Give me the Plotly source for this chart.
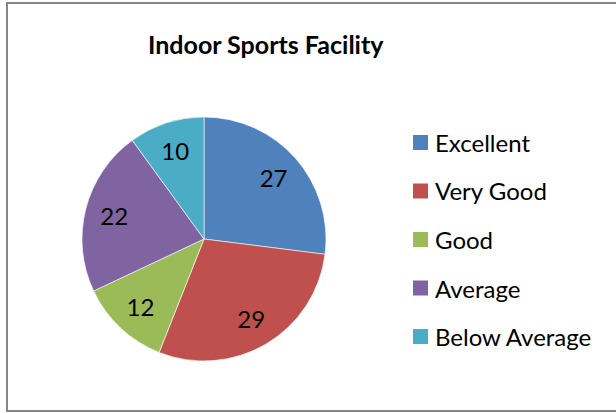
import plotly.graph_objects as go

labels = ["Excellent", "Very Good", "Good", "Average", "Below Average"]
values = [27, 29, 12, 22, 10]
colors = ["#4F81BD", "#C0504D", "#9BBB59", "#8064A2", "#4BACC6"]
title = "Indoor Sports Facility"

W, H = 616, 413
FONT = "Lato"

def px(x):
    return x / W

def py(y):
    return 1 - y / H

dom = dict(x=[px(82), px(326)], y=[py(361), py(117)])

# filled pie (no text)
fig = go.Figure(go.Pie(
    labels=labels, values=values, sort=False, direction="clockwise", rotation=0,
    marker=dict(colors=colors, line=dict(color="rgba(255,255,255,0.6)", width=1)),
    textinfo="none", domain=dom, showlegend=False,
))
# transparent ring carrying the value labels further out, like the reference
fig.add_trace(go.Pie(
    labels=labels, values=values, sort=False, direction="clockwise", rotation=0,
    hole=0.52,
    marker=dict(colors=["rgba(0,0,0,0)"] * len(values), line=dict(width=0)),
    textinfo="value", textposition="inside", insidetextorientation="horizontal",
    textfont=dict(size=24, color="black", family=FONT),
    domain=dom, showlegend=False, hoverinfo="skip",
))

shapes = [dict(type="rect", xref="paper", yref="paper",
               x0=px(7), x1=px(640), y0=py(411), y1=py(3),
               line=dict(color="#868686", width=2), fillcolor="rgba(0,0,0,0)")]
annotations = [dict(text="<b>" + title + "</b>", xref="paper", yref="paper",
                    x=px(266), y=py(44), xanchor="center", yanchor="middle",
                    showarrow=False, font=dict(size=25, color="black", family=FONT))]

for i, (lab, col) in enumerate(zip(labels, colors)):
    yc = 142.5 + i * 48.5
    shapes.append(dict(type="rect", xref="paper", yref="paper",
                       x0=px(413), x1=px(428), y0=py(yc + 7.5), y1=py(yc - 7.5),
                       line=dict(width=0), fillcolor=col))
    annotations.append(dict(text=lab, xref="paper", yref="paper",
                            x=px(433), y=py(yc), xanchor="left", yanchor="middle",
                            showarrow=False, font=dict(size=24, color="black", family=FONT)))

fig.update_layout(
    width=W, height=H, margin=dict(l=0, r=0, t=0, b=0),
    paper_bgcolor="white", plot_bgcolor="white",
    shapes=shapes, annotations=annotations,
)

fig.write_html("out.html", config={"displayModeBar": False},
               post_script="document.body.style.margin='0';document.body.style.overflow='hidden';")
